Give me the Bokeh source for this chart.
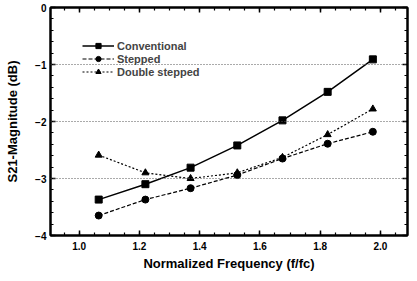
from bokeh.plotting import figure
from bokeh.models import (LinearAxis, FixedTicker, Legend, LegendItem, Span, Range1d,
                          NumeralTickFormatter)
from bokeh.embed import file_html
from bokeh.resources import INLINE

freq = [1.065, 1.22, 1.37, 1.525, 1.675, 1.825, 1.975]
conventional = [-3.37, -3.10, -2.81, -2.42, -1.98, -1.48, -0.91]
stepped = [-3.65, -3.37, -3.17, -2.94, -2.65, -2.39, -2.18]
double_stepped = [-2.59, -2.90, -3.00, -2.90, -2.63, -2.23, -1.78]
x_ticks = [1.0, 1.2, 1.4, 1.6, 1.8, 2.0]
y_ticks = [0, -1, -2, -3, -4]
grid_levels = [-1, -2, -3]

FONT = "Liberation Sans"

p = figure(output_backend="svg", toolbar_location=None,
           x_range=Range1d(0.905, 2.09), y_range=Range1d(-4, 0),
           width=409, height=273,
           min_border_left=50, min_border_top=7, min_border_right=2, min_border_bottom=38)
p.xgrid.visible = False
p.ygrid.visible = False
p.outline_line_color = "black"
p.outline_line_width = 2

xt = FixedTicker(ticks=x_ticks, minor_ticks=[0.9 + 0.05 * i for i in range(25)])
yt = FixedTicker(ticks=y_ticks, minor_ticks=[-4 + 0.2 * i for i in range(21)])

for ax in p.xaxis:
    ax.ticker = xt
    ax.formatter = NumeralTickFormatter(format="0.0")
    ax.axis_label = "Normalized Frequency (f/fc)"
for ax in p.yaxis:
    ax.ticker = yt
    ax.axis_label = "S21-Magnitude (dB)"

for ax in list(p.xaxis) + list(p.yaxis):
    ax.major_tick_in = 5
    ax.major_tick_out = 0
    ax.minor_tick_in = 3
    ax.minor_tick_out = 0
    ax.axis_line_width = 2
    ax.major_tick_line_width = 1.5
    ax.minor_tick_line_width = 1.2
    ax.major_label_text_font = FONT
    ax.major_label_text_font_style = "bold"
    ax.major_label_text_font_size = "10px"
    ax.major_label_text_color = "black"
    ax.axis_label_text_font = FONT
    ax.axis_label_text_font_style = "bold"
    ax.axis_label_text_font_size = "13px"
    ax.axis_label_text_color = "black"
p.xaxis.major_label_standoff = 6
p.xaxis.axis_label_standoff = 3
p.yaxis.major_label_standoff = 4
p.yaxis.axis_label_standoff = 12

top = LinearAxis(ticker=xt, major_label_overrides={t: "" for t in x_ticks},
                 major_tick_in=5, major_tick_out=0, minor_tick_in=3, minor_tick_out=0,
                 axis_line_width=2, major_tick_line_width=1.5, minor_tick_line_width=1.2,
                 major_label_standoff=0)
right = LinearAxis(ticker=yt, major_label_overrides={t: "" for t in y_ticks},
                   major_tick_in=5, major_tick_out=0, minor_tick_in=3, minor_tick_out=0,
                   axis_line_width=2, major_tick_line_width=1.5, minor_tick_line_width=1.2,
                   major_label_standoff=0)
p.add_layout(top, "above")
p.add_layout(right, "right")

for lv in grid_levels:
    p.add_layout(Span(location=lv, dimension="width", line_color="#555555",
                      line_dash="1 2", line_width=1.2))

l1 = p.line(freq, conventional, line_color="black", line_width=1.5)
m1 = p.scatter(freq, conventional, marker="square", size=7, color="black")
l2 = p.line(freq, stepped, line_color="black", line_width=1.2, line_dash="4 2")
m2 = p.scatter(freq, stepped, marker="circle", size=7, color="black")
l3 = p.line(freq, double_stepped, line_color="black", line_width=1.2, line_dash="2 2")
m3 = p.scatter(freq, double_stepped, marker="triangle", size=7, color="black")

legend = Legend(items=[
    LegendItem(label="Conventional", renderers=[l1, m1]),
    LegendItem(label="Stepped", renderers=[l2, m2]),
    LegendItem(label="Double stepped", renderers=[l3, m3]),
], location="top_left")
legend.margin = 30
legend.padding = 2
legend.spacing = 0
legend.border_line_alpha = 0
legend.background_fill_alpha = 0
legend.label_text_font = FONT
legend.label_text_font_style = "bold"
legend.label_text_font_size = "11px"
legend.glyph_width = 32
legend.glyph_height = 13
legend.label_height = 13
legend.label_standoff = 3
p.add_layout(legend)

open("out.html", "w").write(file_html(p, INLINE))
